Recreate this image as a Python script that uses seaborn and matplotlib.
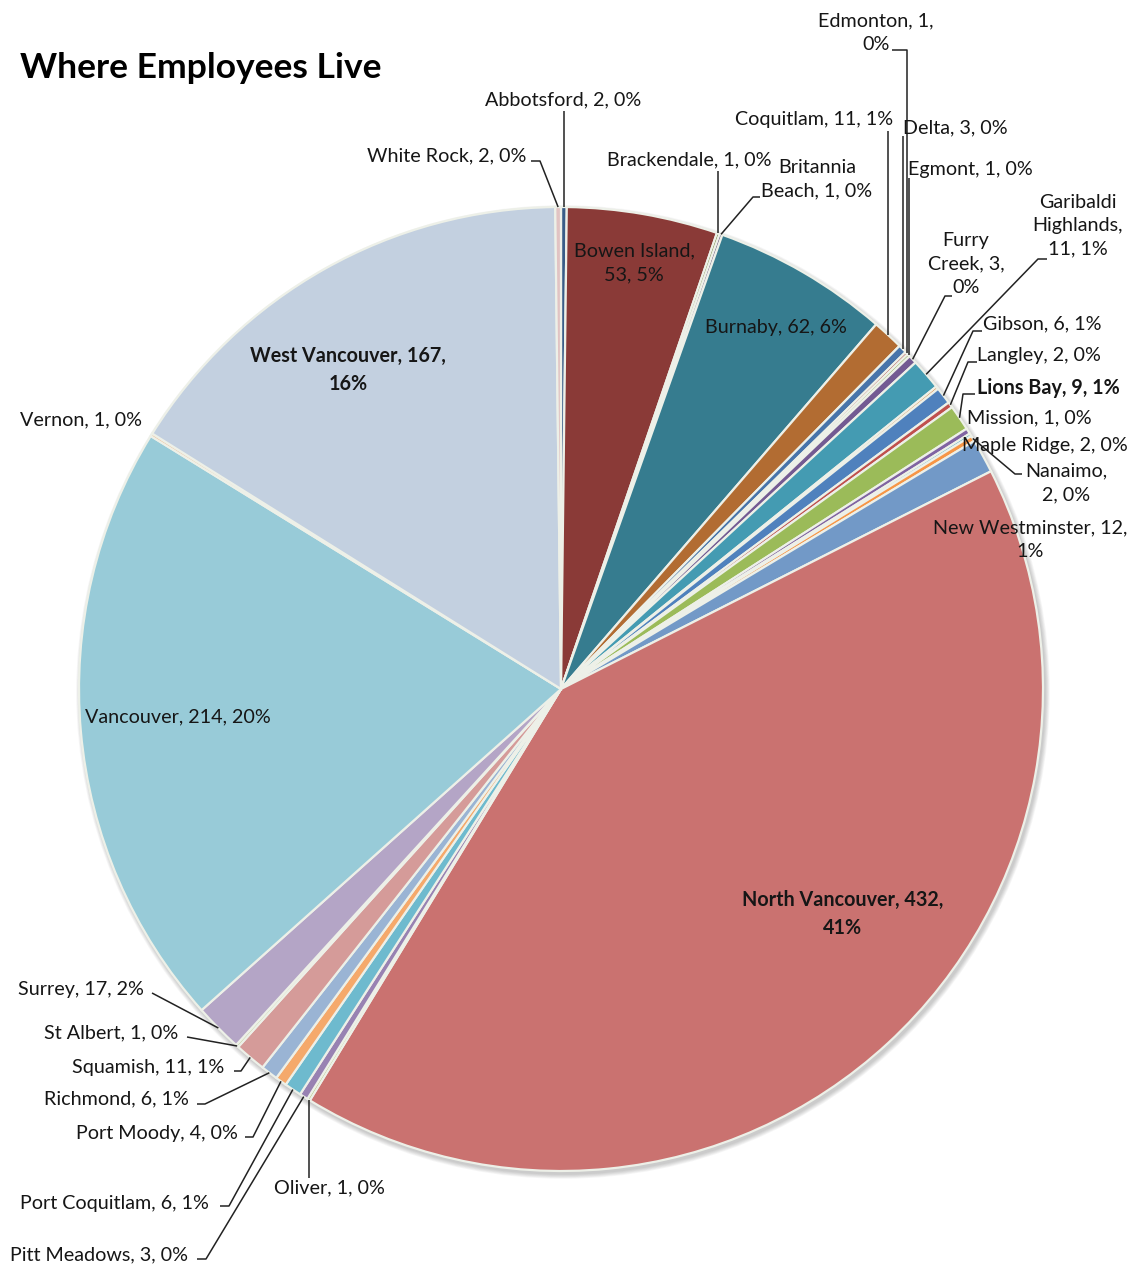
import numpy as np
import matplotlib
matplotlib.use("Agg")
import matplotlib.pyplot as plt
from matplotlib.patches import Circle
from matplotlib.colors import to_rgb
import seaborn as sns

# ---------------- data ----------------
cities = ["Abbotsford", "Bowen Island", "Brackendale", "Britannia Beach", "Burnaby",
          "Coquitlam", "Delta", "Edmonton", "Egmont", "Furry Creek",
          "Garibaldi Highlands", "", "Gibson", "Langley", "Lions Bay",
          "Maple Ridge", "Mission", "Nanaimo", "New Westminster", "North Vancouver",
          "Oliver", "Pitt Meadows", "Port Coquitlam", "Port Moody", "Richmond",
          "Squamish", "St Albert", "Surrey", "Vancouver", "Vernon",
          "West Vancouver", "White Rock"]
counts = [2, 53, 1, 1, 62,
          11, 3, 1, 1, 3,
          11, 1, 6, 2, 9,
          2, 1, 2, 12, 432,
          1, 3, 6, 4, 6,
          11, 1, 17, 214, 1,
          167, 2]
title = "Where Employees Live"

# ---------------- style ----------------
sns.set_theme(style="white")
plt.rcParams["font.family"] = ["Lato", "DejaVu Sans"]

accents = sns.color_palette(["#4F81BD", "#C0504D", "#9BBB59", "#8064A2", "#4BACC6", "#F79646"])
cycle_mod = [("shade", 0.72), ("shade", 0.90), ("shade", 1.0),
             ("tint", 0.22), ("tint", 0.48), ("tint", 0.74)]
TINT_TARGET = np.array([236, 236, 236]) / 255.0


def vary(i):
    base = np.array(to_rgb(accents[i % 6]))
    kind, f = cycle_mod[(i // 6) % 6]
    if kind == "shade":
        return tuple(base * f)
    return tuple(base + (TINT_TARGET - base) * f)


colors = [vary(i) for i in range(len(counts))]

W, H = 1138, 1266
CX, CY, R = 561, 689, 482  # image coords (y down)


def P(x, y):
    return (x, H - y)


fig = plt.figure(figsize=(W / 100, H / 100), dpi=100)
ax = fig.add_axes([0, 0, 1, 1])

# soft shadow
for k in range(1, 7):
    ax.add_patch(Circle(P(CX + 2, CY + 3), R + k * 0.8, color="black",
                        alpha=0.035, lw=0, zorder=0))

wedges, _ = ax.pie(counts, colors=colors, startangle=90, counterclock=False,
                   center=P(CX, CY), radius=R, frame=True,
                   wedgeprops=dict(edgecolor="#EDF0E8", linewidth=1.6, zorder=1))
ax.set_xlim(0, W)
ax.set_ylim(0, H)
ax.set_aspect("equal")
ax.axis("off")

total = sum(counts)

# label layout: text position (image coords), alignment, line breaks (word idx), leader elbows, weight
# elbows: list of (x or None, y) in image coords; None means same x as anchor
layout = {
    "Abbotsford": dict(pos=(485, 100), ha="left", elbows=[(None, 111)]),
    "White Rock": dict(pos=(367, 156), ha="left", elbows=[(540, 161), (531, 161)]),
    "Brackendale": dict(pos=(607, 160), ha="left", elbows=[(None, 171)]),
    "Britannia Beach": dict(pos=(817, 179), ha="center", brk=[0], elbows=[(753, 197), (760, 197)]),
    "Bowen Island": dict(pos=(634, 263), ha="center", brk=[1], inside=True),
    "Burnaby": dict(pos=(776, 327), ha="center", inside=True),
    "Coquitlam": dict(pos=(735, 120), ha="left", elbows=[(None, 131)]),
    "Delta": dict(pos=(903, 128), ha="left", elbows=[(None, 136)]),
    "Edmonton": dict(pos=(876, 33), ha="center", brk=[1], elbows=[(None, 50), (892, 50)]),
    "Egmont": dict(pos=(908, 170), ha="left", elbows=[(None, 178)]),
    "Furry Creek": dict(pos=(966, 264), ha="center", brk=[0, 2], elbows=[(945, 296), (952, 296)]),
    "Garibaldi Highlands": dict(pos=(1078, 226), ha="center", brk=[0, 1], elbows=[(1038, 259), (1047, 259)]),
    "Gibson": dict(pos=(983, 324), ha="left", elbows=[(973, 331), (982, 331)]),
    "Langley": dict(pos=(977, 356), ha="left", elbows=[(968, 362), (977, 362)]),
    "Lions Bay": dict(pos=(977, 388), ha="left", weight="bold", elbows=[(963, 394), (975, 394)]),
    "Mission": dict(pos=(967, 418), ha="left"),
    "Maple Ridge": dict(pos=(962, 446), ha="left"),
    "Nanaimo": dict(pos=(1066, 483), ha="center", brk=[0], elbows=[(1015, 474), (1022, 474)]),
    "New Westminster": dict(pos=(1030, 540), ha="center", brk=[2]),
    "North Vancouver": dict(pos=(843, 914), ha="center", brk=[2], weight="bold", inside=True),
    "Oliver": dict(pos=(274, 1188), ha="left", elbows=[(None, 1178)]),
    "Pitt Meadows": dict(pos=(10, 1255), ha="left", elbows=[(206, 1259), (197, 1259)]),
    "Port Coquitlam": dict(pos=(20, 1203), ha="left", elbows=[(229, 1206), (220, 1206)]),
    "Port Moody": dict(pos=(76, 1133), ha="left", elbows=[(253, 1137), (245, 1137)]),
    "Richmond": dict(pos=(44, 1099), ha="left", elbows=[(205, 1104), (197, 1104)]),
    "Squamish": dict(pos=(72, 1067), ha="left", elbows=[(241, 1071), (234, 1071)]),
    "St Albert": dict(pos=(44, 1033), ha="left", elbows=[(187, 1037)]),
    "Surrey": dict(pos=(18, 989), ha="left", elbows=[(152, 993)]),
    "Vancouver": dict(pos=(178, 717), ha="center", inside=True),
    "Vernon": dict(pos=(20, 420), ha="left"),
    "West Vancouver": dict(pos=(348, 370), ha="center", brk=[2], weight="bold", inside=True),
}

FS = 14.2
TXT = "#161616"
LINE = "#222222"

for w, name, v in zip(wedges, cities, counts):
    if not name or name not in layout:
        continue
    L = layout[name]
    pct = int(round(100.0 * v / total))
    words = f"{name}, {v}, {pct}%".split(" ")
    brk = set(L.get("brk", []))
    s = ""
    for i, wd in enumerate(words):
        s += wd
        if i < len(words) - 1:
            s += "\n" if i in brk else " "
    x, y = P(*L["pos"])
    ax.text(x, y, s, ha=L["ha"], va="center", multialignment="center",
            fontsize=FS, color=TXT, fontweight=L.get("weight", "normal"),
            linespacing=1.45, zorder=5)
    if "elbows" in L:
        mid = np.deg2rad((w.theta1 + w.theta2) / 2.0)
        ax_, ay_ = w.center[0] + w.r * np.cos(mid), w.center[1] + w.r * np.sin(mid)
        xs, ys = [ax_], [ay_]
        for ex, ey in L["elbows"]:
            px, py = P(ax_ if ex is None else ex, ey)
            xs.append(px)
            ys.append(py)
        ax.plot(xs, ys, color=LINE, lw=1.1, zorder=4, solid_capstyle="butt")

ax.text(*P(20, 68), title, ha="left", va="center", fontsize=25.5,
        fontweight="bold", color="black")

fig.savefig("out.png", dpi=100, facecolor="white")
